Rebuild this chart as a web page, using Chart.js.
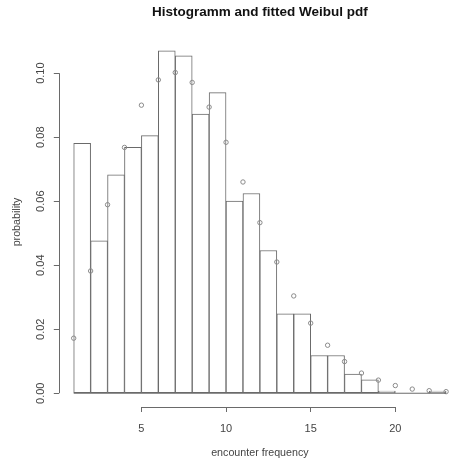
<!DOCTYPE html>
<html>
<head>
<meta charset="utf-8">
<script src="https://cdn.jsdelivr.net/npm/chart.js@4.4.1/dist/chart.umd.min.js"></script>
<style>
  html, body { margin: 0; padding: 0; background: #fff; overflow: hidden; }
  #wrap { width: 466px; height: 463px; }
</style>
</head>
<body>
<div id="wrap"><canvas id="myChart" width="466" height="463"></canvas></div>
<script>
// histogram bins (left edge, width 1) and their density
let binStart = [1, 2, 3, 4, 5, 6, 7, 8, 9, 10, 11, 12, 13, 14, 15, 16, 17, 18, 19, 20, 21, 22];
let binDensity = [0.0781, 0.0476, 0.0682, 0.0768, 0.0805, 0.1070, 0.1054, 0.0872, 0.0939, 0.0600, 0.0624,
  0.0446, 0.0248, 0.0248, 0.0118, 0.0118, 0.0060, 0.0042, 0.0007, 0, 0, 0.0007];

// fitted weibull pdf, evaluated at integers
let pdfX = [1, 2, 3, 4, 5, 6, 7, 8, 9, 10, 11, 12, 13, 14, 15, 16, 17, 18, 19, 20, 21, 22, 23];
let pdfY = [0.0172, 0.0382, 0.0589, 0.0768, 0.0900, 0.0979, 0.1002, 0.0971, 0.0894, 0.0784, 0.0660,
  0.0533, 0.0410, 0.0304, 0.0219, 0.0150, 0.0099, 0.0063, 0.0041, 0.0024, 0.0013, 0.0008, 0.0005];

let xTicks = [5, 10, 15, 20];
let yTicks = [0, 0.02, 0.04, 0.06, 0.08, 0.10];

const FONT = "'Liberation Sans', Arial, sans-serif";
const LINE = '#6a6a6a';

// R style axes: line only between first and last tick, plus the zero line under the bins
const rAxes = {
  id: 'rAxes',
  afterDraw(chart) {
    const { ctx, scales: { x, y }, chartArea } = chart;
    ctx.save();
    ctx.strokeStyle = LINE;
    ctx.lineWidth = 1;
    ctx.beginPath();
    let ax = Math.round(chartArea.left) + 0.5;
    ctx.moveTo(ax, y.getPixelForValue(yTicks[0]));
    ctx.lineTo(ax, y.getPixelForValue(yTicks[yTicks.length - 1]));
    let ay = Math.round(chartArea.bottom) + 0.5;
    ctx.moveTo(x.getPixelForValue(xTicks[0]), ay);
    ctx.lineTo(x.getPixelForValue(xTicks[xTicks.length - 1]), ay);
    let zy = y.getPixelForValue(0);
    ctx.moveTo(x.getPixelForValue(binStart[0]), zy);
    ctx.lineTo(x.getPixelForValue(binStart[binStart.length - 1] + 1), zy);
    ctx.stroke();
    ctx.restore();
  }
};

const ctx = document.getElementById('myChart').getContext('2d');

new Chart(ctx, {
  type: 'bar',
  data: {
    datasets: [
      {
        type: 'scatter',
        label: 'weibull pdf',
        data: pdfX.map((v, i) => ({ x: v, y: pdfY[i] })),
        pointStyle: 'circle',
        pointRadius: 2.2,
        borderColor: '#8a8a8a',
        backgroundColor: 'rgba(0,0,0,0)',
        borderWidth: 1,
        order: 0
      },
      {
        label: 'histogram',
        data: binStart.map((v, i) => ({ x: v + 0.5, y: binDensity[i] })),
        backgroundColor: '#fff',
        borderColor: LINE,
        borderWidth: 1,
        borderSkipped: false,
        barPercentage: 1,
        categoryPercentage: 1,
        order: 1
      }
    ]
  },
  options: {
    responsive: false,
    animation: false,
    layout: { padding: 0 },
    plugins: {
      legend: { display: false },
      tooltip: { enabled: false },
      title: {
        display: true,
        text: 'Histogramm and fitted Weibul pdf',
        fullSize: false,
        color: '#111',
        font: { family: FONT, size: 13.5, weight: 'bold', lineHeight: 1.2 },
        padding: { top: 4.4, bottom: 16.4 }
      }
    },
    scales: {
      x: {
        type: 'linear',
        min: 0.12,
        max: 23.88,
        offset: false,
        afterBuildTicks: s => { s.ticks = xTicks.map(v => ({ value: v })); },
        afterFit: s => { s.height = 56; },
        grid: { offset: false, drawOnChartArea: false, drawTicks: true, tickLength: 5, color: LINE },
        border: { display: false },
        ticks: { color: '#444', font: { family: FONT, size: 11 }, padding: 10, maxRotation: 0 },
        title: {
          display: true, text: 'encounter frequency', color: '#444',
          font: { family: FONT, size: 10.7 }, padding: { top: 0, bottom: 3.4 }
        }
      },
      y: {
        type: 'linear',
        min: -0.0043,
        max: 0.1113,
        afterBuildTicks: s => { s.ticks = yTicks.map(v => ({ value: v })); },
        afterFit: s => { s.width = 58.8; },
        grid: { offset: false, drawOnChartArea: false, drawTicks: true, tickLength: 5, color: LINE },
        border: { display: false },
        ticks: {
          color: '#444', font: { family: FONT, size: 11 },
          minRotation: 90, maxRotation: 90, crossAlign: 'center', padding: 2,
          callback: v => v.toFixed(2)
        },
        title: {
          display: true, text: 'probability', color: '#444',
          font: { family: FONT, size: 10.7 }, padding: { top: 11, bottom: 0 }
        }
      }
    }
  },
  plugins: [rAxes]
});
</script>
</body>
</html>
